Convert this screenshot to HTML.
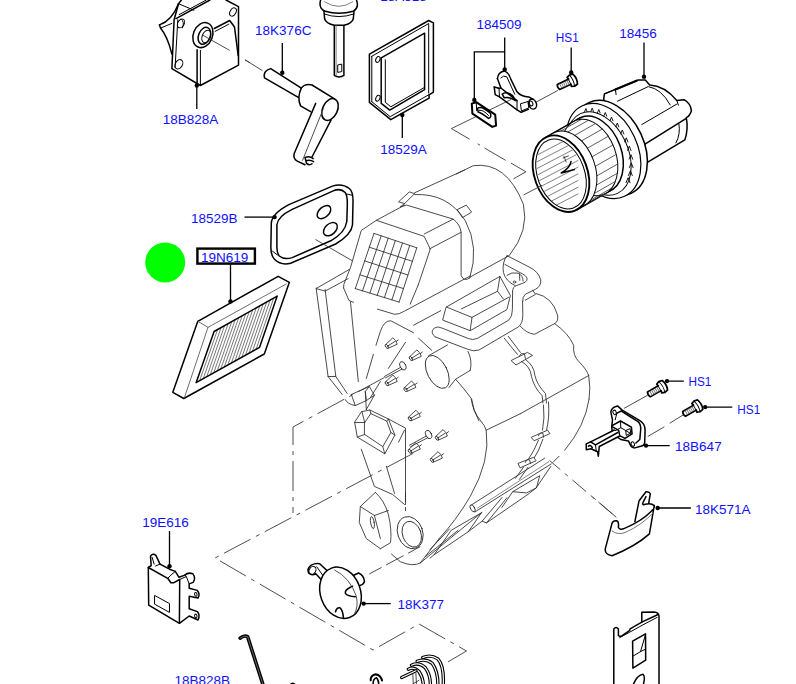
<!DOCTYPE html>
<html><head><meta charset="utf-8"><title>Diagram</title>
<style>
html,body{margin:0;padding:0;background:#fff;}
svg{display:block}
text{font-family:"Liberation Sans",sans-serif;font-size:13.5px;fill:#1010ff}
.k{fill:none;stroke:#000;stroke-width:1.5;stroke-linejoin:round;stroke-linecap:round}
.kw{fill:#fff;stroke:#000;stroke-width:1.5;stroke-linejoin:round;stroke-linecap:round}
.t{fill:none;stroke:#000;stroke-width:1;stroke-linejoin:round;stroke-linecap:round}
.l{fill:none;stroke:#000;stroke-width:1.3}
.g{fill:none;stroke:#2a2a2a;stroke-width:0.85;stroke-linejoin:round;stroke-linecap:round}
.gw{fill:#fff;stroke:#2a2a2a;stroke-width:0.85;stroke-linejoin:round;stroke-linecap:round}
.c{fill:none;stroke:#3a3a3a;stroke-width:0.9}
.d{fill:#000;stroke:none}
</style></head><body>
<svg width="796" height="684" viewBox="0 0 796 684">
<rect width="796" height="684" fill="#fff"/>
<path class="c" d="M384.4 377.5L293 427V513" stroke-dasharray="30 6 4 6" stroke-dashoffset="0"/>
<path class="c" d="M413.3 453.3L215 558L373 650L419 624L466.5 651L445.8 663.2" stroke-dasharray="30 6 4 6" stroke-dashoffset="0"/>
<path class="c" d="M405.5 492V514" stroke-dasharray="10 5 4 5" stroke-dashoffset="0"/>
<path class="c" d="M420.4 546.6L368.9 574.2" stroke-dasharray="14 5 20 5" stroke-dashoffset="0"/>
<path class="c" d="M451.4 128.6L469.6 139.2M477.6 143.8L480 145.2M484.5 148L505.6 160.3M510.9 163L525.9 171.8L513.5 178.8"/>
<path class="c" d="M549.6 460.5L616.3 517.3" stroke-dasharray="18 6 4 6" stroke-dashoffset="4"/>
<path class="g" d="M 343.6 288.0 L 343.8 284.4 L 350.5 267.5 L 361.3 230.4 L 376.4 220.3 L 424.2 236.4 L 430.3 249.0 L 418.2 285.0"/>
<path class="g" d="M 376.4 220.3 L 404.5 205.2"/>
<path class="g" d="M 374.0 233.4 L 355.3 288.6"/>
<path class="g" d="M 381.2 235.8 L 362.5 290.9"/>
<path class="g" d="M 388.2 238.2 L 369.9 293.1"/>
<path class="g" d="M 395.3 240.6 L 377.2 295.5"/>
<path class="g" d="M 402.5 243.0 L 384.4 297.7"/>
<path class="g" d="M 409.7 245.4 L 391.9 299.9"/>
<path class="g" d="M 416.8 247.8 L 399.1 302.1"/>
<path class="g" d="M 374.0 233.4 L 416.8 247.8"/>
<path class="g" d="M 369.3 247.2 L 412.4 261.3"/>
<path class="g" d="M 364.7 260.9 L 407.9 275.0"/>
<path class="g" d="M 359.9 274.8 L 403.5 288.6"/>
<path class="g" d="M 355.3 288.6 L 399.1 302.1"/>
<path class="g" d="M 349.2 269.5 L 316.1 288.6 L 325.1 291.1 L 348.2 278.6"/>
<path class="g" d="M 414.6 192.8 L 464.6 170.0"/>
<path class="g" d="M 398.8 201.6 L 409.3 191.9 L 414.6 193.7 L 404.9 203.3 Z"/>
<path class="g" d="M 404.9 203.3 L 400.5 206.8"/>
<path class="g" d="M 414.6 194.6 Q 447.9 192.8 465.4 220.9 Q 479.5 247.2 469.8 277.9"/>
<path class="g" d="M 400.5 206.8 L 406.7 205.1 L 453.2 219.1 L 424.2 234.0"/>
<path class="g" d="M 429.5 248.9 L 461.1 232.3"/>
<path class="g" d="M 453.2 219.1 Q 460.2 224.4 461.1 232.3 L 461.1 275.3 Q 463.7 282.3 469.8 277.9"/>
<path class="g" d="M 457.5 209.5 L 466.3 205.1 L 471.6 212.1 L 462.8 217.4 Z"/>
<path class="g" d="M 456.1 174.1 L 473.2 165.7 Q 506.3 161.1 523.4 204.3 Q 529.4 230.4 509.3 255.5 L 470.2 277.0"/>
<path class="g" d="M 507.0 255.6 L 529.7 267.3 Q 538.5 271.7 540.7 279.7 Q 541.4 286.3 535.6 289.2 L 525.3 294.3 Q 522.4 296.5 522.7 301.6"/>
<path class="g" d="M 512.5 291.4 Q 512.9 286.3 516.5 285.6 L 522.4 283.4 Q 525.6 282.6 526.8 280.4 Q 528.2 276.8 522.4 273.9 L 504.9 264.4"/>
<path class="g" d="M 507.0 255.6 Q 501.9 262.2 503.4 272.4 Q 505.6 281.2 515.1 285.6"/>
<path class="g" d="M 507.0 275.3 Q 511.4 271.7 518.0 273.1 Q 523.1 275.3 523.1 281.2 M 519.5 273.9 L 519.8 280.4"/>
<ellipse class="g" cx="514.5" cy="282.0" rx="1.3" ry="1.0" transform="rotate(0 514.5 282.0)"/>
<path class="g" d="M 532.6 290.2 L 535.6 294.3 L 525.3 300.2"/>
<path class="g" d="M 316.1 288.0 L 328.1 376.5 L 342.2 394.5"/>
<path class="g" d="M 325.1 289.4 L 335.8 376.5 L 328.1 376.5"/>
<path class="g" d="M 335.8 376.5 L 347.2 393.5"/>
<path class="g" d="M 343.6 288.0 L 349.0 300.5 L 353.5 302.3 M 350.5 301.9 L 358.3 381.5"/>
<path class="g" d="M 418.2 285.0 L 410.2 304.1"/>
<path class="g" d="M 377.4 309.1 L 394.5 314.3 Q 398.9 314.7 404.5 311.1 L 470.1 276.0"/>
<path class="g" d="M 413.6 325.2 L 440.7 310.7"/>
<path class="g" d="M 366.3 378.5 L 373.4 354.3 M 376.0 345.3 L 380.4 331.2 Q 384.4 320.2 390.9 320.8 L 413.6 332.8 M 418.6 338.3 L 431.7 350.3"/>
<path class="g" d="M 388.4 368.4 L 405.5 342.3"/>
<path class="g" d="M 370.4 397.6 L 380.4 381.5"/>
<g transform="translate(391.5 343.3)"><path class="g" d="M-5.9 1.3L1.3 -5.5Q4.6 -3.1 5.7 0.9L-3.3 5M-4.4 3.1L3.5 -1.9M4.8 -1.9L6.8 -3.4"/><ellipse class="g" cx="-4.7" cy="3.1" rx="1.3" ry="2.2" transform="rotate(-35 -4.7 3.1)"/></g>
<g transform="translate(415.6 355.4)"><path class="g" d="M-5.9 1.3L1.3 -5.5Q4.6 -3.1 5.7 0.9L-3.3 5M-4.4 3.1L3.5 -1.9M4.8 -1.9L6.8 -3.4"/><ellipse class="g" cx="-4.7" cy="3.1" rx="1.3" ry="2.2" transform="rotate(-35 -4.7 3.1)"/></g>
<g transform="translate(391.5 380.5)"><path class="g" d="M-5.9 1.3L1.3 -5.5Q4.6 -3.1 5.7 0.9L-3.3 5M-4.4 3.1L3.5 -1.9M4.8 -1.9L6.8 -3.4"/><ellipse class="g" cx="-4.7" cy="3.1" rx="1.3" ry="2.2" transform="rotate(-35 -4.7 3.1)"/></g>
<g transform="translate(410.2 386.5)"><path class="g" d="M-5.9 1.3L1.3 -5.5Q4.6 -3.1 5.7 0.9L-3.3 5M-4.4 3.1L3.5 -1.9M4.8 -1.9L6.8 -3.4"/><ellipse class="g" cx="-4.7" cy="3.1" rx="1.3" ry="2.2" transform="rotate(-35 -4.7 3.1)"/></g>
<g transform="translate(414.6 415.7)"><path class="g" d="M-5.9 1.3L1.3 -5.5Q4.6 -3.1 5.7 0.9L-3.3 5M-4.4 3.1L3.5 -1.9M4.8 -1.9L6.8 -3.4"/><ellipse class="g" cx="-4.7" cy="3.1" rx="1.3" ry="2.2" transform="rotate(-35 -4.7 3.1)"/></g>
<ellipse class="g" cx="402.9" cy="365.8" rx="2.8" ry="4.4" transform="rotate(-25 402.9 365.8)"/>
<path class="g" d="M 400.5 367.4 L 384.4 376.5"/>
<path class="g" d="M 402.1 369.0 L 385.4 377.9"/>
<path class="g" d="M 345.2 399.6 Q 347.2 404.0 355.3 405.6 L 366.3 400.6 L 365.3 391.5"/>
<path class="g" d="M 351.3 394.5 L 369.3 386.5 L 374.4 395.2 L 366.3 400.6"/>
<path class="g" d="M 351.3 394.5 L 355.3 405.6"/>
<path class="g" d="M 369.3 386.5 L 365.3 391.5 L 366.3 409.6"/>
<path class="g" d="M 374.4 395.2 L 366.3 409.6"/>
<path class="k" d="M 159.5 24.9 Q 171.9 20.5 178.5 3.7 L 181.4 0.0"/>
<path class="k" d="M 159.5 24.9 L 160.5 28.1 Q 167.5 36.5 171.9 54.1"/>
<path class="t" d="M 160.5 28.1 L 171.9 23.4"/>
<path class="k" d="M 178.5 3.7 L 174.1 19.7 L 171.9 68.7 L 200.4 85.5 L 238.5 65.1 L 238.5 6.6 L 226.0 0.0"/>
<path class="k" d="M 176.0 18.7 L 209.9 0.0"/>
<path class="t" d="M 178.5 3.7 L 193.9 10.2"/>
<path class="t" d="M 179.2 14.6 L 206.3 0.0"/>
<path class="t" d="M 177.8 19.7 L 175.1 67.5"/>
<path class="k" d="M 197.1 49.7 L 197.1 83.3"/>
<path class="t" d="M 200.4 50.4 L 200.4 84.8"/>
<path class="k" d="M 214.3 28.5 L 229.7 20.5 L 234.5 27.0 L 238.2 55.6"/>
<path class="t" d="M 215.1 31.4 L 228.9 24.1"/>
<ellipse class="k" cx="202.9" cy="35.1" rx="9.6" ry="12.9" transform="rotate(22 202.9 35.1)"/>
<ellipse class="k" cx="204.4" cy="35.8" rx="5.8" ry="8.8" transform="rotate(22 204.4 35.8)"/>
<ellipse class="t" cx="206.3" cy="36.5" rx="4.1" ry="6.6" transform="rotate(22 206.3 36.5)"/>
<ellipse class="t" cx="181.0" cy="23.4" rx="3.2" ry="4.7" transform="rotate(30 181.0 23.4)"/>
<ellipse class="t" cx="233.0" cy="12.0" rx="2.9" ry="4.4" transform="rotate(30 233.0 12.0)"/>
<ellipse class="t" cx="178.9" cy="64.3" rx="3.5" ry="5.0" transform="rotate(30 178.9 64.3)"/>
<path class="t" d="M 181.0 19.0 Q 185.1 21.9 182.5 27.8"/>
<path class="c" d="M 202.6 35.1 L 229.7 50.4"/>
<path class="c" d="M 245.0 59.9 L 250.0 62.9"/>
<path class="l" d="M196.8 85.5V109"/>
<circle class="d" cx="196.8" cy="85.5" r="2.2"/>
<path class="g" d="M 446.4 307.0 L 499.9 276.4 L 510.4 295.5 L 506.9 309.6 L 470.2 330.7 L 443.0 320.2 Z"/>
<path class="g" d="M 446.4 307.0 L 472.0 317.4 L 508.7 297.3"/>
<path class="g" d="M 461.5 308.8 L 497.5 291.3 L 503.5 299.1"/>
<path class="g" d="M 472.0 317.4 L 470.2 330.3"/>
<path class="g" d="M 499.9 276.4 L 497.5 291.3"/>
<path class="g" d="M 435.2 336.9 Q 429.5 332.5 434.2 328.1 Q 437.8 325.7 442.0 328.1 L 468.3 338.5 Q 472.8 340.5 477.2 338.5 L 508.7 320.2 Q 512.4 316.6 512.4 309.6 L 512.6 291.5"/>
<path class="g" d="M 435.2 336.9 L 467.5 349.2 Q 473.8 352.0 479.0 350.0 L 518.4 326.9 Q 522.8 323.6 522.8 315.2 L 522.6 301.5"/>
<path class="g" d="M 536.1 293.5 Q 552.6 297.1 557.6 315.2 Q 558.6 321.6 554.6 323.6 L 534.5 334.3 Q 526.4 333.3 520.4 326.3"/>
<path class="g" d="M 554.6 323.6 Q 568.6 333.3 573.7 345.4 Q 572.7 355.4 578.7 361.4 Q 586.7 369.5 588.7 375.5 Q 590.8 387.6 589.1 399.0"/>
<path class="g" d="M 520.4 413.7 L 588.7 375.5"/>
<path class="g" d="M 504.3 338.3 L 517.4 354.4 M 508.3 336.3 L 520.4 352.4"/>
<path class="gw" d="M 511.4 360.4 L 527.4 352.4 L 532.5 355.4 L 516.4 364.8 Z"/>
<path class="g" d="M 519.4 356.4 Q 520.4 352.4 524.4 353.8 L 525.4 358.4"/>
<path class="g" d="M 521.4 361.4 Q 530.5 366.5 531.5 376.5 Q 534.1 387.6 542.1 395.6 L 542.9 403.0"/>
<path class="g" d="M 525.4 359.4 Q 534.1 365.5 534.9 375.5 Q 536.9 384.5 545.5 393.6 L 546.5 403.0"/>
<ellipse class="gw" cx="437.3" cy="371.9" rx="9.9" ry="17.8" transform="rotate(-27 437.3 371.9)"/>
<path class="g" d="M 428.5 355.8 L 447.5 344.9"/>
<path class="g" d="M 449.0 387.5 L 455.6 379.2 L 470.2 370.4"/>
<path class="g" d="M 468.0 351.4 Q 472.7 360.9 470.2 370.4"/>
<path class="g" d="M 455.6 379.2 Q 464.3 388.7 471.6 398.9 Q 473.1 410.6 478.9 420.9"/>
<path class="g" d="M 361.9 411.6 L 369.9 410.0 L 388.4 419.0 L 394.9 435.1 L 384.8 453.8 L 357.3 437.1 L 354.7 422.5 Z"/>
<path class="g" d="M 364.7 422.5 L 370.8 413.6 L 386.8 421.1 L 390.9 432.5 L 382.8 446.6 L 364.7 434.5 Z"/>
<path class="g" d="M 361.9 411.6 L 364.7 422.5 M 354.7 422.5 L 364.7 422.5 M 357.3 437.1 L 364.7 434.5 M 384.8 453.8 L 382.8 446.6 M 394.9 435.1 L 390.9 432.5 M 388.4 419.0 L 386.8 421.1 M 369.9 410.0 L 370.8 413.6"/>
<path class="g" d="M 388.4 419.0 L 405.5 428.1 L 405.5 504.5"/>
<path class="g" d="M 398.5 442.2 L 404.5 430.1"/>
<path class="g" d="M 361.3 449.2 L 374.4 486.4 L 392.5 494.4 L 404.5 504.5"/>
<path class="g" d="M 386.4 466.3 L 394.5 493.4"/>
<path class="g" d="M 375.4 492.4 L 360.3 506.5 L 359.3 522.6 L 366.3 538.6 L 380.4 548.7"/>
<path class="g" d="M 375.4 492.4 Q 384.4 500.5 388.4 514.5 Q 392.1 530.6 390.5 542.7 L 380.4 548.7"/>
<path class="g" d="M 374.4 515.5 L 388.4 510.5"/>
<path class="g" d="M 360.3 506.5 L 374.4 515.5 L 380.4 538.6"/>
<ellipse class="g" cx="372.4" cy="522.6" rx="1.8" ry="6.0" transform="rotate(-10 372.4 522.6)"/>
<ellipse class="g" cx="410.2" cy="532.6" rx="12.5" ry="16.5" transform="rotate(-20 410.2 532.6)"/>
<ellipse class="g" cx="411.8" cy="534.2" rx="9.2" ry="13.3" transform="rotate(-20 411.8 534.2)"/>
<g transform="translate(441.7 435.1)"><path class="g" d="M-5.9 1.3L1.3 -5.5Q4.6 -3.1 5.7 0.9L-3.3 5M-4.4 3.1L3.5 -1.9M4.8 -1.9L6.8 -3.4"/><ellipse class="g" cx="-4.7" cy="3.1" rx="1.3" ry="2.2" transform="rotate(-35 -4.7 3.1)"/></g>
<g transform="translate(414.6 448.2)"><path class="g" d="M-5.9 1.3L1.3 -5.5Q4.6 -3.1 5.7 0.9L-3.3 5M-4.4 3.1L3.5 -1.9M4.8 -1.9L6.8 -3.4"/><ellipse class="g" cx="-4.7" cy="3.1" rx="1.3" ry="2.2" transform="rotate(-35 -4.7 3.1)"/></g>
<g transform="translate(436.7 457.2)"><path class="g" d="M-5.9 1.3L1.3 -5.5Q4.6 -3.1 5.7 0.9L-3.3 5M-4.4 3.1L3.5 -1.9M4.8 -1.9L6.8 -3.4"/><ellipse class="g" cx="-4.7" cy="3.1" rx="1.3" ry="2.2" transform="rotate(-35 -4.7 3.1)"/></g>
<ellipse class="g" cx="428.6" cy="434.5" rx="2.8" ry="4.4" transform="rotate(-25 428.6 434.5)"/>
<path class="g" d="M 426.2 436.1 L 409.5 445.2 M 427.8 437.7 L 410.6 446.6"/>
<path class="g" d="M 471.2 399.0 Q 473.2 412.1 480.2 420.1 Q 485.2 426.1 486.2 430.2 Q 490.7 460.3 470.2 496.5 Q 456.1 520.6 439.0 538.7"/>
<path class="g" d="M 486.2 430.2 L 520.4 413.7"/>
<path class="g" d="M 589.1 399.0 Q 585.1 426.1 564.6 450.3 M 559.0 456.3 L 553.0 462.3"/>
<path class="g" d="M 543.5 405.0 Q 544.9 418.1 542.5 430.2 M 548.5 402.0 Q 549.7 418.1 546.5 430.2"/>
<path class="gw" d="M 531.5 437.2 L 547.5 430.2 L 549.9 433.6 L 534.5 440.6 Z"/>
<path class="g" d="M 538.5 435.8 Q 539.5 432.2 542.9 433.2 L 543.5 437.2"/>
<path class="g" d="M 538.5 440.2 Q 534.5 450.3 528.4 459.3 M 542.9 439.2 Q 539.5 450.3 532.9 460.3"/>
<path class="gw" d="M 518.4 463.3 L 533.5 457.3 L 536.1 460.7 L 520.4 467.7 Z"/>
<path class="g" d="M 525.4 462.3 Q 526.4 458.7 529.6 459.9 L 530.5 463.5"/>
<path class="g" d="M 523.4 467.3 L 515.4 478.4 M 528.0 467.3 L 519.4 479.4"/>
<path class="g" d="M 471.7 504.8 L 544.6 458.2 M 475.0 511.9 L 551.2 463.9"/>
<path class="g" d="M 477.5 508.1 L 548.7 461.8" style="stroke:#777"/>
<ellipse class="g" cx="472.6" cy="508.3" rx="2.0" ry="3.9" transform="rotate(-30 472.6 508.3)"/>
<path class="g" d="M 539.4 475.9 L 512.7 491.7 L 526.6 492.9 L 536.1 488.0 Z"/>
<path class="g" d="M 502.0 497.5 L 482.1 521.2 L 486.5 522.9 L 506.9 497.8"/>
<path class="g" d="M 512.7 491.7 L 502.0 507.3"/>
<path class="g" d="M 481.1 513.0 L 451.3 530.2 L 434.1 554.8 L 468.0 531.9 Z"/>
<path class="g" d="M 468.0 531.9 L 482.1 521.2 M 486.5 522.9 L 528.2 494.2 L 536.1 488.0 L 550.8 466.4"/>
<path class="g" d="M 430.0 549.5 L 449.6 528.9"/>
<path class="g" d="M 434.1 554.8 L 430.0 558.1"/>
<path class="g" d="M 420.4 562.9 Q 412.9 567.2 400.3 561.7 L 391.5 554.1"/>
<path class="g" d="M 420.4 562.9 L 482.0 512.2"/>
<path class="g" d="M 425.4 556.6 L 458.1 530.3"/>
<path class="g" d="M 439.0 538.8 Q 427.9 552.9 420.4 562.9"/>
<path class="k" d="M 301.3 88.1 L 270.7 68.6 Q 262.9 70.7 264.5 77.8 L 298.3 97.3"/>
<path class="k" d="M 301.3 88.1 Q 305.0 83.4 312.0 85.0 L 334.5 98.9"/>
<path class="k" d="M 301.3 88.1 Q 296.9 97.3 300.5 105.8 L 310.6 111.6"/>
<ellipse class="k" cx="330.0" cy="109.5" rx="7.4" ry="11.5" transform="rotate(25 330.0 109.5)"/>
<path class="k" d="M 315.7 103.4 L 294.2 153.5 Q 292.8 158.6 297.3 161.1 L 305.0 164.7"/>
<path class="k" d="M 331.0 120.2 L 312.0 157.0"/>
<path class="c" d="M 323.4 108.5 L 302.4 160.7"/>
<path class="k" d="M 305.0 157.6 Q 309.5 155.5 313.2 158.6 M 305.8 160.7 Q 310.6 159.6 313.6 161.7 M 306.5 163.3 Q 309.5 165.8 312.0 163.7 M 305.0 157.6 L 306.5 163.3"/>
<path class="c" d="M 245.1 59.8 L 262.5 70.7"/>
<path class="l" d="M282.3 43V72.7"/>
<circle class="d" cx="282.3" cy="72.7" r="2.2"/>
<path class="kw" d="M 334.3 25.3 L 334.3 75.4 Q 339.2 78.6 343.9 75.4 L 343.9 25.3"/>
<path class="kw" d="M 324.0 11.5 L 324.6 18.7 Q 325.8 23.4 334.6 25.3 L 343.9 25.3 Q 352.1 23.4 353.3 18.7 L 354.0 11.5"/>
<path class="g" d="M 336.1 25.7 L 336.1 76.0" style="stroke:#666"/>
<path class="t" d="M 338.1 64.9 L 341.8 64.1 L 341.8 71.6 L 338.1 72.3 Z"/>
<path class="kw" d="M 320.8 -0.6 Q 319.1 4.7 321.1 8.2 Q 322.3 10.3 325.2 11.2 Q 338.7 15.4 353.3 11.2 Q 356.8 9.4 357.4 5.3 Q 357.4 2.3 356.3 -0.6"/>
<path class="g" d="M 324.6 1.8 Q 338.7 11.1 352.7 1.8" style="stroke:#666"/>
<path class="t" d="M 324.3 14.0 Q 338.7 19.3 353.7 14.0"/>
<path class="k" d="M 369.4 54.2 L 428.7 20.5 L 433.4 22.9 L 433.4 92.1 L 429.1 94.8 L 429.1 98.2 L 390.8 119.7 L 369.4 102.3 Z"/>
<path class="t" d="M 371.8 56.3 L 428.7 23.5 L 428.7 93.1"/>
<path class="t" d="M 371.8 56.3 L 371.8 101.7"/>
<path class="k" d="M 381.2 57.9 L 424.6 33.2 L 424.6 89.6 L 389.8 110.1 L 381.2 103.4 Z"/>
<path class="t" d="M 385.3 59.8 L 385.3 102.3 L 390.8 106.8 L 424.2 87.6"/>
<path class="t" d="M 371.8 101.7 L 390.2 116.7 L 428.7 94.8"/>
<ellipse class="t" cx="377.9" cy="59.4" rx="2.0" ry="3.1" transform="rotate(25 377.9 59.4)"/>
<ellipse class="t" cx="377.9" cy="98.2" rx="2.0" ry="3.1" transform="rotate(25 377.9 98.2)"/>
<path class="l" d="M402.3 115V138"/>
<circle class="d" cx="402.3" cy="115.0" r="2.2"/>
<path class="l" d="M504.7 37.6V69.3M504.7 51.9H474.3V99.7M571.2 47.5V72.2"/>
<circle class="d" cx="504.7" cy="69.5" r="2.2"/>
<circle class="d" cx="474.3" cy="99.9" r="2.2"/>
<circle class="d" cx="571.2" cy="72.4" r="2.2"/>
<path class="c" d="M 451.4 128.6 L 511.3 99.4"/>
<path class="c" d="M 536.0 102.2 L 557.9 90.4"/>
<path class="kw" d="M 471.8 103.6 L 476.2 102.2 L 495.2 114.6 L 496.1 125.6 L 492.3 126.9 L 472.4 113.6 Z" style="stroke-width:2"/>
<path class="t" d="M 476.2 102.2 L 476.7 110.8"/>
<path class="k" d="M 477.5 108.3 Q 481.3 105.1 490.4 113.2 Q 491.9 117.8 488.5 118.4 Q 481.3 112.9 478.2 112.1 Z"/>
<path class="t" d="M 479.0 110.2 Q 483.8 109.8 488.5 115.5"/>
<path class="k" d="M 497.4 78.5 Q 498.0 72.2 504.1 70.9 Q 508.7 72.2 510.9 79.4 L 517.0 91.8 Q 521.2 96.9 528.8 96.9 L 533.2 99.4"/>
<path class="k" d="M 497.4 78.5 L 500.9 88.0 L 517.0 100.7"/>
<path class="t" d="M 500.9 77.9 Q 503.3 74.9 506.8 76.8 L 514.7 94.2"/>
<path class="k" d="M 494.2 87.0 L 499.0 88.2 L 500.9 88.0"/>
<path class="k" d="M 494.2 87.0 L 495.2 94.6 L 499.5 96.9 L 517.0 109.8 L 521.2 112.3 L 528.4 109.4"/>
<path class="t" d="M 499.0 88.2 L 499.5 96.9"/>
<path class="t" d="M 517.0 100.7 L 517.0 109.8"/>
<path class="k" d="M 502.2 94.2 Q 506.6 90.8 512.8 95.8 L 515.5 100.7 Q 509.8 96.5 504.1 97.7 Z"/>
<path class="t" d="M 520.8 103.7 L 528.0 101.5 L 528.8 107.9 L 521.8 110.8 Z"/>
<ellipse class="k" cx="532.6" cy="104.1" rx="3.8" ry="5.1" transform="rotate(-20 532.6 104.1)"/>
<ellipse class="t" cx="531.1" cy="103.4" rx="1.7" ry="2.5" transform="rotate(-20 531.1 103.4)"/>
<g transform="translate(572.5 80.4) rotate(-25) scale(1)"><path class="kw" style="stroke-width:1.7" d="M-3 -2.8L-15.5 -2.8Q-17 0 -15.5 2.8L-3 2.8L-3.6 5L-0.5 6.2L3 5.4Q5.2 0 3 -5.4L-0.5 -6.2L-3.6 -5Z"/><path class="g" style="stroke:#777;stroke-width:0.9" d="M-5 -2V2M-7 -2V2M-9 -2V2M-11 -2V2M-13 -2V2"/><path class="t" d="M-0.5 -6Q1.4 0 -0.5 6M-3.2 -2.8V2.8" style="stroke-width:0.9"/></g>
<path class="l" d="M644 42.6V76.8"/>
<circle class="d" cx="644.0" cy="76.8" r="2.2"/>
<path class="kw" d="M 603.7 99.0 L 604.4 93.9 L 638.3 80.0 L 645.3 80.0 L 649.7 85.1 Q 664.3 85.8 676.8 100.5 L 684.1 99.7 Q 690.6 103.4 691.4 110.7 Q 689.9 115.8 686.3 117.6 Q 688.5 129.7 684.8 139.9 L 648.2 161.9 L 614.6 138.5 Z"/>
<path class="t" d="M 604.4 93.9 L 615.4 89.5 L 616.1 94.6"/>
<path class="k" d="M 615.4 89.5 L 636.5 80.7" style="stroke-width:2.2"/>
<path class="k" d="M 644.6 144.3 L 686.3 118.3"/>
<path class="t" d="M 617.5 101.2 L 648.2 86.6 Q 661.4 88.8 670.2 104.9"/>
<path class="t" d="M 641.7 124.6 L 676.8 104.1"/>
<path class="t" d="M 676.8 100.5 L 678.4 105.1"/>
<path class="t" d="M 678.9 123.9 Q 680.7 134.1 676.0 142.9"/>
<ellipse class="kw" cx="610" cy="148" rx="34" ry="50" transform="rotate(-25 610 148)"/>
<ellipse class="kw" cx="603.5" cy="151" rx="34" ry="50" transform="rotate(-25 603.5 151)" style="stroke-width:1.2"/>
<ellipse class="t" cx="599" cy="153.5" rx="29" ry="44" transform="rotate(-25 599 153.5)"/>
<path class="t" d="M584.6 111.5l1.3 -3.0l1.2 3.1" style="stroke-width:0.9"/>
<path class="t" d="M590.9 111.3l1.3 -3.2l1.3 3.3" style="stroke-width:0.9"/>
<path class="t" d="M597.4 112.8l1.4 -3.3l1.3 3.4" style="stroke-width:0.9"/>
<path class="t" d="M603.8 116.0l1.5 -3.5l1.4 3.6" style="stroke-width:0.9"/>
<path class="t" d="M610.0 120.7l1.5 -3.6l1.4 3.7" style="stroke-width:0.9"/>
<path class="t" d="M615.7 126.8l1.6 -3.8l1.5 3.9" style="stroke-width:0.9"/>
<path class="t" d="M620.6 134.0l1.7 -4.0l1.6 4.1" style="stroke-width:0.9"/>
<path class="t" d="M624.6 141.9l1.7 -4.1l1.6 4.2" style="stroke-width:0.9"/>
<path class="t" d="M627.5 150.4l1.8 -4.3l1.7 4.4" style="stroke-width:0.9"/>
<path class="t" d="M629.1 159.1l1.9 -4.4l1.7 4.5" style="stroke-width:0.9"/>
<path class="t" d="M629.4 167.5l1.9 -4.6l1.8 4.7" style="stroke-width:0.9"/>
<path class="t" d="M628.4 175.5l2.0 -4.7l1.9 4.8" style="stroke-width:0.9"/>
<path class="t" d="M626.1 182.6l2.0 -4.9l1.9 5.0" style="stroke-width:0.9"/>
<ellipse class="kw" cx="595.0" cy="154.4" rx="26.5" ry="39.5" transform="rotate(-20 595.0 154.4)"/>
<path d="M545.6 137.4L579.6 118.1L610.4 190.7L576.4 210.0Z" fill="#fff" stroke="none"/>
<path class="k" d="M545.6 137.4L579.6 118.1M576.4 210.0L610.4 190.7"/>
<ellipse class="t" cx="589.5" cy="157.5" rx="26.5" ry="39.5" transform="rotate(-20 589.5 157.5)" style="fill:#fff"/>
<path class="t" style="stroke-width:0.8;stroke:#333" d="M560.6 131.2L581.5 119.3"/>
<path class="t" style="stroke-width:0.8;stroke:#333" d="M567.6 132.1L588.5 120.2"/>
<path class="t" style="stroke-width:0.8;stroke:#333" d="M574.7 135.4L595.6 123.5"/>
<path class="t" style="stroke-width:0.8;stroke:#333" d="M581.5 140.9L602.4 129.0"/>
<path class="t" style="stroke-width:0.8;stroke:#333" d="M587.4 148.2L608.3 136.3"/>
<path class="t" style="stroke-width:0.8;stroke:#333" d="M592.1 156.8L613.0 144.9"/>
<path class="t" style="stroke-width:0.8;stroke:#333" d="M595.3 166.3L616.2 154.4"/>
<path class="t" style="stroke-width:0.8;stroke:#333" d="M596.8 175.9L617.7 164.0"/>
<path class="t" style="stroke-width:0.8;stroke:#333" d="M596.5 185.1L617.4 173.2"/>
<path class="t" style="stroke-width:0.8;stroke:#333" d="M594.5 193.3L615.4 181.4"/>
<path class="t" style="stroke-width:0.8;stroke:#333" d="M590.8 200.0L611.7 188.1"/>
<path class="t" style="stroke-width:0.8;stroke:#333" d="M585.6 204.8L606.5 192.9"/>
<ellipse class="t" cx="568.6" cy="169.4" rx="26.5" ry="39.5" transform="rotate(-20 568.6 169.4)" style="fill:#fff"/>
<ellipse class="kw" cx="561.0" cy="173.7" rx="26.5" ry="39.5" transform="rotate(-20 561.0 173.7)" style="stroke-width:1.9"/>
<ellipse class="t" cx="561.0" cy="174.0" rx="23.5" ry="36.1" transform="rotate(-20 561.0 174.0)"/>
<clipPath id="fanc"><ellipse cx="561.0" cy="174.0" rx="22.9" ry="35.3" transform="rotate(-20 561.0 174.0)"/></clipPath>
<g clip-path="url(#fanc)">
<path class="g" d="M 534.1 156.6 L 578.0 133.8" style="stroke:#555;stroke-width:0.75"/>
<path class="g" d="M 534.1 163.3 L 578.0 140.5" style="stroke:#555;stroke-width:0.75"/>
<path class="g" d="M 534.1 170.0 L 578.0 147.1" style="stroke:#555;stroke-width:0.75"/>
<path class="g" d="M 534.1 176.7 L 578.0 153.8" style="stroke:#555;stroke-width:0.75"/>
<path class="g" d="M 534.1 183.4 L 578.0 160.5" style="stroke:#555;stroke-width:0.75"/>
<path class="g" d="M 534.1 190.0 L 578.0 167.2" style="stroke:#555;stroke-width:0.75"/>
<path class="g" d="M 534.1 196.7 L 578.0 173.9" style="stroke:#555;stroke-width:0.75"/>
<path class="g" d="M 534.1 203.4 L 578.0 180.5" style="stroke:#555;stroke-width:0.75"/>
<path class="g" d="M 534.1 210.1 L 578.0 187.2" style="stroke:#555;stroke-width:0.75"/>
<path class="g" d="M 534.1 216.8 L 578.0 193.9" style="stroke:#555;stroke-width:0.75"/>
</g>
<path class="k" d="M 571.0 161.6 Q 570.1 167.7 561.3 173.0 M 561.3 173.0 L 574.5 169.5"/>
<path class="g" d="M 564.0 156.3 L 566.1 161.9 M 563.1 158.0 L 568.4 155.9"/>
<path class="c" d="M 523.5 195.0 L 542.0 185.3"/>
<path class="kw" d="M 271.3 223.1 Q 272.1 213.4 288.9 204.6 L 332.4 186.1 Q 342.0 182.9 349.3 188.5 Q 353.3 191.7 353.0 202.2 L 352.5 224.7 Q 351.7 234.3 335.6 244.0 L 290.6 263.3 Q 280.9 265.7 274.5 259.3 Q 270.5 255.2 270.9 245.6 Z"/>
<path class="k" d="M 276.9 224.7 Q 277.7 216.6 292.2 209.4 L 333.2 190.9 Q 340.4 187.7 345.2 192.5 Q 347.6 195.7 347.3 205.4 L 346.8 221.5 Q 345.2 232.7 330.8 240.8 L 292.2 257.6 Q 284.1 260.1 279.3 256.0 Q 276.6 252.8 276.9 244.0 Z"/>
<path class="t" d="M 272.5 251.2 L 277.4 254.9 M 347.3 194.1 L 352.6 195.4"/>
<ellipse class="k" cx="324.0" cy="212.1" rx="8.0" ry="5.0" transform="rotate(-42 324.0 212.1)"/>
<ellipse class="k" cx="330.4" cy="229.2" rx="8.0" ry="5.3" transform="rotate(-42 330.4 229.2)"/>
<path class="c" d="M 315.5 239.5 L 352.5 260.9"/>
<path class="l" d="M244.5 217.1H274.6"/>
<circle class="d" cx="274.6" cy="217.1" r="2.2"/>
<path class="kw" d="M 197.8 321.3 L 278.2 276.3 L 289.3 282.4 L 264.3 354.0 L 183.8 398.5 L 172.8 392.3 Z"/>
<path class="g" d="M 197.8 321.3 L 208.0 327.4 L 286.2 284.0" style="stroke:#555"/>
<path class="g" d="M 208.0 327.4 L 184.4 397.7" style="stroke:#555"/>
<path class="g" d="M 217.6 329.6 L 199.6 380.7" style="stroke-width:0.9;stroke:#6a6a6a"/>
<path class="g" d="M 221.1 327.6 L 203.2 378.8" style="stroke-width:0.9;stroke:#6a6a6a"/>
<path class="g" d="M 224.6 325.6 L 206.7 376.8" style="stroke-width:0.9;stroke:#6a6a6a"/>
<path class="g" d="M 228.1 323.7 L 210.2 374.8" style="stroke-width:0.9;stroke:#6a6a6a"/>
<path class="g" d="M 231.7 321.7 L 213.7 372.9" style="stroke-width:0.9;stroke:#6a6a6a"/>
<path class="g" d="M 235.2 319.7 L 217.3 370.9" style="stroke-width:0.9;stroke:#6a6a6a"/>
<path class="g" d="M 238.7 317.8 L 220.8 368.9" style="stroke-width:0.9;stroke:#6a6a6a"/>
<path class="g" d="M 242.2 315.8 L 224.3 367.0" style="stroke-width:0.9;stroke:#6a6a6a"/>
<path class="g" d="M 245.7 313.8 L 227.8 365.0" style="stroke-width:0.9;stroke:#6a6a6a"/>
<path class="g" d="M 249.2 311.9 L 231.4 363.0" style="stroke-width:0.9;stroke:#6a6a6a"/>
<path class="g" d="M 252.7 309.9 L 234.9 361.1" style="stroke-width:0.9;stroke:#6a6a6a"/>
<path class="g" d="M 256.2 307.9 L 238.4 359.1" style="stroke-width:0.9;stroke:#6a6a6a"/>
<path class="g" d="M 259.7 306.0 L 241.9 357.1" style="stroke-width:0.9;stroke:#6a6a6a"/>
<path class="g" d="M 263.2 304.0 L 245.5 355.2" style="stroke-width:0.9;stroke:#6a6a6a"/>
<path class="g" d="M 266.7 302.0 L 249.0 353.2" style="stroke-width:0.9;stroke:#6a6a6a"/>
<path class="g" d="M 270.2 300.0 L 252.5 351.2" style="stroke-width:0.9;stroke:#6a6a6a"/>
<path class="g" d="M 273.7 298.1 L 256.1 349.3" style="stroke-width:0.9;stroke:#6a6a6a"/>
<path class="k" d="M 214.1 331.5 L 277.2 296.1 L 259.6 347.3 L 196.1 382.7 Z"/>
<path class="l" d="M230.5 264.5V301.4"/>
<circle class="d" cx="230.5" cy="301.4" r="2.2"/>
<path class="l" d="M667 381.1H683.8M705.2 407.1H732.3M646 445.6H669.7"/>
<circle class="d" cx="667.0" cy="381.1" r="2.2"/>
<circle class="d" cx="705.2" cy="407.1" r="2.2"/>
<circle class="d" cx="646.0" cy="445.6" r="2.2"/>
<path class="c" d="M 624.0 408.4 L 647.7 395.2"/>
<path class="c" d="M 647.7 436.5 L 664.4 426.8 M 669.7 423.3 L 683.8 414.5"/>
<g transform="translate(662.3 386.7) rotate(-30) scale(1)"><path class="kw" style="stroke-width:1.7" d="M-3 -2.8L-15.5 -2.8Q-17 0 -15.5 2.8L-3 2.8L-3.6 5L-0.5 6.2L3 5.4Q5.2 0 3 -5.4L-0.5 -6.2L-3.6 -5Z"/><path class="g" style="stroke:#777;stroke-width:0.9" d="M-5 -2V2M-7 -2V2M-9 -2V2M-11 -2V2M-13 -2V2"/><path class="t" d="M-0.5 -6Q1.4 0 -0.5 6M-3.2 -2.8V2.8" style="stroke-width:0.9"/></g>
<g transform="translate(697.5 406.1) rotate(-30) scale(1)"><path class="kw" style="stroke-width:1.7" d="M-3 -2.8L-15.5 -2.8Q-17 0 -15.5 2.8L-3 2.8L-3.6 5L-0.5 6.2L3 5.4Q5.2 0 3 -5.4L-0.5 -6.2L-3.6 -5Z"/><path class="g" style="stroke:#777;stroke-width:0.9" d="M-5 -2V2M-7 -2V2M-9 -2V2M-11 -2V2M-13 -2V2"/><path class="t" d="M-0.5 -6Q1.4 0 -0.5 6M-3.2 -2.8V2.8" style="stroke-width:0.9"/></g>
<path class="kw" d="M 610.8 411.9 Q 611.7 407.1 617.8 406.1 L 622.2 410.1 L 639.8 420.7 Q 645.4 424.2 645.1 430.3 L 644.7 442.7 Q 644.2 446.2 639.8 446.5 L 634.9 447.9 Q 631.0 447.9 630.1 444.4 L 628.4 440.9 L 620.8 439.5 L 612.5 433.9 L 611.7 426.8 L 612.5 419.8 Z"/>
<path class="k" d="M 616.9 413.1 L 621.3 411.0 L 638.0 421.6 Q 641.0 424.2 640.7 429.5 L 639.8 439.5 L 635.9 443.0"/>
<path class="t" d="M 616.9 413.1 L 615.2 419.8"/>
<ellipse class="t" cx="614.6" cy="412.4" rx="1.6" ry="2.3" transform="rotate(-20 614.6 412.4)"/>
<ellipse class="t" cx="632.8" cy="444.1" rx="1.6" ry="2.3" transform="rotate(-20 632.8 444.1)"/>
<path class="k" d="M 612.5 425.4 L 620.5 421.0 L 631.4 427.2 L 632.1 433.9 L 625.0 438.4 L 619.7 435.6 L 618.7 430.3 L 612.5 426.8"/>
<path class="t" d="M 620.5 421.0 L 620.8 427.7 L 631.4 433.9 M 620.8 427.7 L 615.2 430.7"/>
<path class="t" d="M 626.1 430.3 L 630.1 428.6 L 630.7 433.0 L 626.6 435.3 Z"/>
<path class="kw" d="M 614.3 430.0 L 590.6 441.8 L 586.2 443.9 L 586.3 449.7 L 590.9 448.8 L 597.6 451.8 L 598.3 456.2 L 599.3 446.5 L 619.7 436.0"/>
<path class="k" d="M 590.6 441.8 L 595.5 444.8 L 617.8 432.5"/>
<path class="t" d="M 595.5 444.8 L 596.2 450.6"/>
<path class="k" d="M 588.4 446.2 Q 590.9 444.4 592.3 447.9"/>
<path class="l" d="M657.7 508H690.9"/>
<circle class="d" cx="657.7" cy="508.0" r="2.2"/>
<path class="c" d="M 592.8 497.3 L 595.8 499.6 M 600.4 503.5 L 616.3 517.3"/>
<path class="kw" d="M 634.9 521.5 L 639.1 500.7 L 646.0 491.7 Q 649.4 491.3 650.3 493.8 L 648.7 503.2"/>
<path class="kw" d="M 611.4 525.6 Q 612.1 520.5 616.5 520.8 Q 619.3 521.7 618.3 527.3 Q 619.7 530.6 624.5 528.4 Q 641.1 521.5 650.8 511.8 Q 655.2 507.6 654.3 505.6 L 649.4 533.9 Q 635.6 546.3 612.1 555.7 Q 604.9 554.9 605.2 549.1 Z"/>
<path class="k" d="M 654.3 505.6 Q 650.8 502.5 645.3 504.3 Q 641.4 505.7 643.3 501.8 L 646.0 496.6"/>
<path class="t" d="M 612.1 530.9 Q 617.6 535.6 625.9 532.2 Q 642.5 524.5 653.0 512.9" style="stroke:#777"/>
<path class="kw" d="M 613.8 686.0 L 613.8 628.9 Q 616.0 626.2 618.4 628.9 L 618.4 635.6 Q 619.7 637.1 622.1 635.6 L 629.5 630.7 L 630.1 628.9 L 641.8 622.1 L 641.8 612.3 L 654.1 612.0 Q 658.5 612.3 659.0 616.0 L 659.0 686.0"/>
<path class="k" d="M 641.8 622.1 L 658.0 614.5"/>
<path class="t" d="M 619.7 637.6 L 629.5 632.3 L 643.0 624.8 L 657.1 617.4"/>
<path class="k" d="M 632.6 641.2 L 645.5 633.8 L 645.7 660.2 L 632.9 668.2 Z"/>
<path class="t" d="M 645.5 634.6 L 640.5 651.6 L 633.4 655.9 M 640.5 651.6 L 645.7 649.1"/>
<path class="k" d="M 632.6 686.0 Q 636.9 675.2 643.0 674.3 Q 645.7 676.2 643.0 686.0"/>
<path class="l" d="M169.5 531V566.3"/>
<path class="kw" d="M 148.3 567.5 L 151.2 565.6 L 150.5 556.1 Q 152.7 552.9 155.9 555.4 L 160.0 564.1 L 169.5 569.2 L 175.3 571.4 L 179.0 577.3 L 184.8 575.1 Q 188.5 571.9 192.9 573.9 Q 196.1 578.0 193.2 582.4 L 189.2 583.9 L 189.2 588.2 L 197.3 590.4 Q 200.5 594.1 198.0 598.0 L 189.2 596.3 L 189.2 608.7 L 197.3 611.6 Q 200.5 615.3 198.0 620.0 L 189.2 616.0 L 179.4 623.3 L 148.7 605.1 Z"/>
<path class="k" d="M 148.3 567.5 L 167.7 578.3 L 170.9 582.7 L 173.9 582.7 L 179.7 579.5 L 179.4 623.3"/>
<path class="t" d="M 160.0 564.1 L 155.6 566.0 M 175.3 571.4 L 170.9 575.1 L 167.7 578.3 M 179.7 579.5 L 186.3 576.5 L 189.2 583.9 M 186.3 576.5 L 184.8 575.1"/>
<path class="t" d="M 154.9 595.6 L 169.5 603.6 L 169.5 612.4 L 154.9 604.3 Z"/>
<path class="t" d="M 152.2 557.5 L 154.1 564.1"/>
<ellipse class="t" cx="195.8" cy="594.4" rx="1.2" ry="1.9" transform="rotate(-15 195.8 594.4)"/>
<ellipse class="t" cx="195.8" cy="616.0" rx="1.2" ry="1.9" transform="rotate(-15 195.8 616.0)"/>
<circle class="d" cx="169.5" cy="566.3" r="2.2"/>
<path class="k" d="M 240.1 638.1 Q 244.1 634.9 247.6 636.6 L 263.2 685.3" style="stroke-width:3.6"/>
<path class="k" d="M 240.1 638.1 Q 244.1 634.9 247.6 636.6 L 263.2 685.3" style="stroke-width:1;stroke:#666"/>
<path class="l" d="M363.6 603.6H390.8"/>
<path class="kw" d="M 321.1 579.6 L 315.8 573.7 Q 311.8 576.3 308.6 573.0 Q 306.8 568.4 311.2 565.1 Q 315.8 562.9 319.7 563.8 L 327.6 571.1"/>
<ellipse class="t" cx="312.5" cy="570.4" rx="3.2" ry="4.2" transform="rotate(30 312.5 570.4)"/>
<path class="t" d="M 316.8 566.8 L 323.0 575.7"/>
<path class="kw" d="M 352.6 575.7 L 358.6 573.0 Q 363.8 575.0 364.5 581.6 Q 363.2 584.9 359.9 585.5"/>
<ellipse class="kw" cx="340.5" cy="592.8" rx="20.0" ry="26.3" transform="rotate(-20 340.5 592.8)"/>
<path class="t" d="M 334.5 570.0 Q 350.0 577.6 356.3 596.1 Q 358.6 606.6 354.6 613.4" style="stroke:#555"/>
<path class="k" d="M 355.3 596.7 Q 347.4 596.3 345.4 593.4 Q 344.5 590.1 350.0 587.5 L 352.6 586.2"/>
<path class="k" d="M 335.5 611.8 Q 336.8 607.0 340.1 607.9 Q 342.9 610.5 343.4 617.4"/>
<circle class="d" cx="363.6" cy="603.6" r="2.2"/>
<path class="k" d="M 422.8 657.6 Q 430.4 654.1 437.9 658.9 Q 444.4 666.4 443.2 685.3" style="stroke-width:3.4"/>
<path class="k" d="M 422.8 657.6 Q 430.4 654.1 437.9 658.9 Q 444.4 666.4 443.2 685.3" style="stroke-width:1.2;stroke:#fff"/>
<path class="k" d="M 417.2 661.4 Q 425.3 657.9 432.2 663.3 Q 438.1 671.5 437.9 685.3" style="stroke-width:3.4"/>
<path class="k" d="M 417.2 661.4 Q 425.3 657.9 432.2 663.3 Q 438.1 671.5 437.9 685.3" style="stroke-width:1.2;stroke:#fff"/>
<path class="k" d="M 411.5 665.2 Q 419.0 661.7 425.3 667.7 Q 430.6 675.2 430.4 685.3" style="stroke-width:3.4"/>
<path class="k" d="M 411.5 665.2 Q 419.0 661.7 425.3 667.7 Q 430.6 675.2 430.4 685.3" style="stroke-width:1.2;stroke:#fff"/>
<path class="k" d="M 408.4 669.2 Q 414.0 666.2 419.0 671.5 Q 423.1 677.7 423.4 685.3" style="stroke-width:3.4"/>
<path class="k" d="M 408.4 669.2 Q 414.0 666.2 419.0 671.5 Q 423.1 677.7 423.4 685.3" style="stroke-width:1.2;stroke:#fff"/>
<path class="k" d="M 401.7 677.5 L 415.9 670.8" style="stroke-width:3.4"/>
<path class="k" d="M 401.7 677.5 L 415.9 670.8" style="stroke-width:1.2;stroke:#fff"/>
<path class="g" d="M 410.9 685.3 L 419.0 680.3 M 412.8 674.0 L 413.4 685.3 M 415.9 673.3 L 416.5 685.3"/>
<path class="k" d="M 370.7 680.3 Q 370.3 675.5 375.7 674.2 Q 380.7 675.2 382.1 680.5" style="stroke-width:2"/>
<path class="k" d="M 373.2 685.3 Q 372.6 679.0 376.3 677.7 Q 378.8 679.6 378.8 685.3"/>
<path class="k" d="M290 685Q292.5 681.5 295.5 685"/>
<text x="162.8" y="123.7">18B828A</text>
<text x="255.1" y="34.9">18K376C</text>
<text x="380.3" y="154.4">18529A</text>
<text x="380.3" y="0.8">18A318</text>
<text x="476.5" y="29.3">184509</text>
<text x="555.8" y="41.9" textLength="22.9" lengthAdjust="spacingAndGlyphs">HS1</text>
<text x="619.2" y="38.1">18456</text>
<text x="190.9" y="223.3">18529B</text>
<text x="201.0" y="261.8" text-decoration="underline">19N619</text>
<text x="688.4" y="385.8" textLength="22.9" lengthAdjust="spacingAndGlyphs">HS1</text>
<text x="737.3" y="413.5" textLength="22.9" lengthAdjust="spacingAndGlyphs">HS1</text>
<text x="675.1" y="451.1">18B647</text>
<text x="694.9" y="513.6">18K571A</text>
<text x="142.2" y="526.5">19E616</text>
<text x="397.4" y="608.8">18K377</text>
<text x="174.5" y="685.3">18B828B</text>
<circle cx="165.2" cy="262.4" r="20" fill="#00ff00"/>
<rect x="197.4" y="248.6" width="57.5" height="15" fill="none" stroke="#000" stroke-width="2.4"/>
</svg>
</body></html>
